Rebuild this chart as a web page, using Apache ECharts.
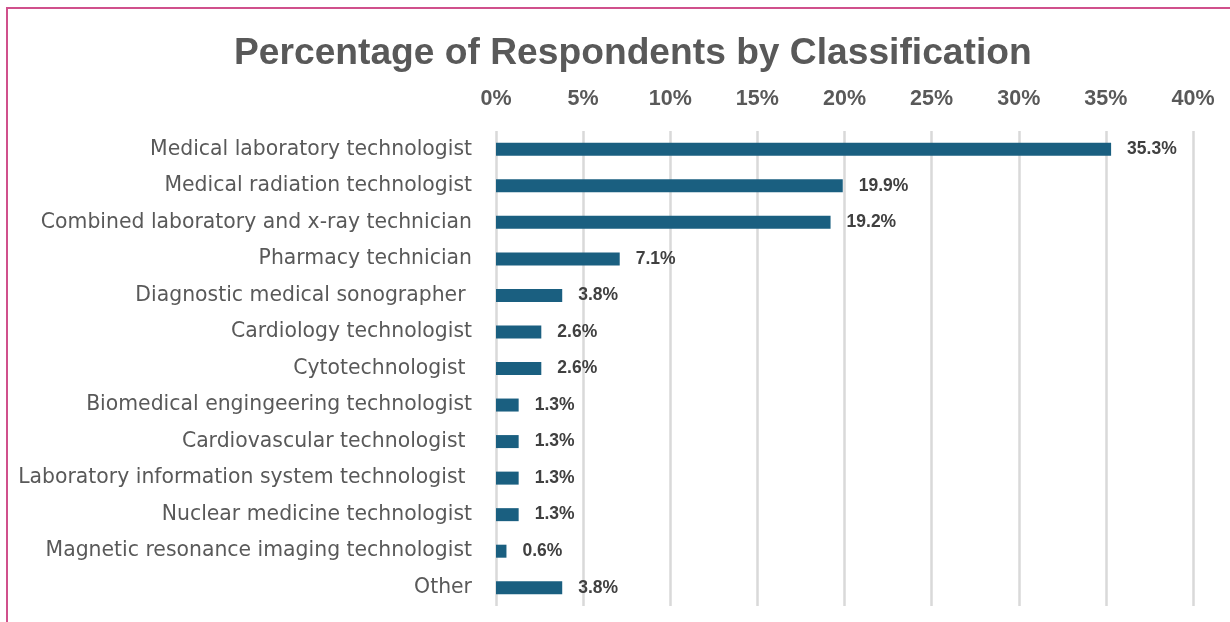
<!DOCTYPE html>
<html>
<head>
<meta charset="utf-8">
<script src="https://cdn.jsdelivr.net/npm/echarts@6/dist/echarts.min.js"></script>
<style>
  html, body { margin: 0; padding: 0; background: #ffffff; }
  #chart { width: 1230px; height: 622px; }
</style>
</head>
<body>
<div id="chart"></div>
<script>
// Respondent classifications, top to bottom
var categories = [
  'Medical laboratory technologist',
  'Medical radiation technologist',
  'Combined laboratory and x-ray technician',
  'Pharmacy technician',
  'Diagnostic medical sonographer ',
  'Cardiology technologist',
  'Cytotechnologist ',
  'Biomedical engingeering technologist',
  'Cardiovascular technologist ',
  'Laboratory information system technologist ',
  'Nuclear medicine technologist',
  'Magnetic resonance imaging technologist',
  'Other'
];
// Share of respondents, percent
var percents = [35.3, 19.9, 19.2, 7.1, 3.8, 2.6, 2.6, 1.3, 1.3, 1.3, 1.3, 0.6, 3.8];
// Axis range and tick step, percent
var axisMin = 0;
var axisMax = 40;
var axisStep = 5;

var chart = echarts.init(document.getElementById('chart'), null, { renderer: 'canvas' });

chart.setOption({
  backgroundColor: '#ffffff',
  animation: false,
  title: {
    text: 'Percentage of Respondents by Classification',
    left: 229,
    top: 30,
    textStyle: {
      fontFamily: 'Liberation Sans, Arial, sans-serif',
      fontWeight: 'bold',
      fontSize: 37.2,
      color: '#595959'
    }
  },
  graphic: [{
    type: 'rect',
    shape: { x: 7, y: 8, width: 1300, height: 700 },
    style: { fill: 'none', stroke: '#d0508c', lineWidth: 2 },
    silent: true,
    z: 100
  }],
  grid: { left: 496, right: 37, top: 131, bottom: 16, containLabel: false },
  xAxis: {
    type: 'value',
    position: 'top',
    min: axisMin,
    max: axisMax,
    interval: axisStep,
    axisLine: { show: false },
    axisTick: { show: false },
    axisLabel: {
      formatter: '{value}%',
      margin: 21,
      fontFamily: 'Liberation Sans, Arial, sans-serif',
      fontWeight: 'bold',
      fontSize: 21.5,
      color: '#595959'
    },
    splitLine: { show: true, lineStyle: { color: '#d9d9d9', width: 2.5 } }
  },
  yAxis: {
    type: 'category',
    inverse: true,
    data: categories,
    axisLine: { show: false },
    axisTick: { show: false },
    axisLabel: {
      margin: 24,
      fontFamily: 'DejaVu Sans, Open Sans, sans-serif',
      fontSize: 20.4,
      color: '#595959'
    }
  },
  series: [{
    type: 'bar',
    data: percents,
    barWidth: 13,
    itemStyle: { color: '#1a5f80' },
    label: {
      show: true,
      position: 'right',
      distance: 16,
      formatter: function (p) { return p.value.toFixed(1) + '%'; },
      fontFamily: 'Liberation Sans, Arial, sans-serif',
      fontWeight: 'bold',
      fontSize: 17.5,
      color: '#404040'
    }
  }]
});
</script>
</body>
</html>
